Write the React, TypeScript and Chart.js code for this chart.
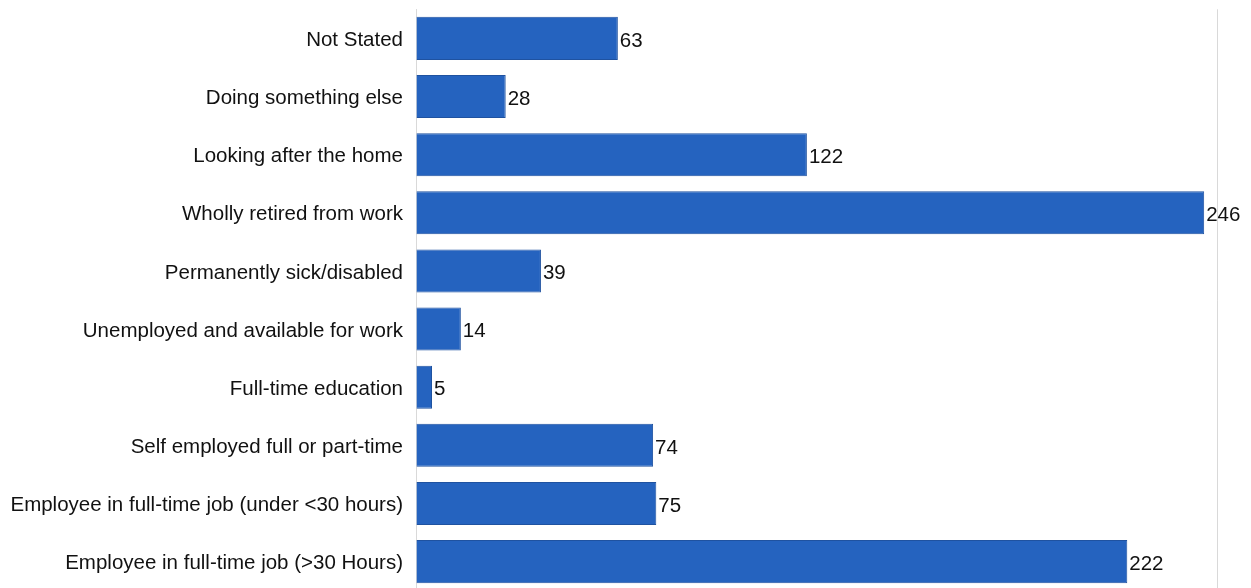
import React, { useEffect, useRef } from "react";
import { Chart, registerables } from "chart.js";

Chart.register(...registerables);

const categories = [
  "Not Stated",
  "Doing something else",
  "Looking after the home",
  "Wholly retired from work",
  "Permanently sick/disabled",
  "Unemployed and available for work",
  "Full-time education",
  "Self employed full or part-time",
  "Employee in full-time job (under <30 hours)",
  "Employee in full-time job (>30 Hours)",
];
const values = [63, 28, 122, 246, 39, 14, 5, 74, 75, 222];
const axisMin = 0;
const axisMax = 250;

const FONT_SIZE = 20.5;
const FONT_FAMILY = "'Liberation Sans', Arial, sans-serif";

const valueLabels = {
  id: "valueLabels",
  afterDatasetsDraw(chart: any) {
    const ctx = chart.ctx;
    const meta = chart.getDatasetMeta(0);
    ctx.save();
    ctx.font = `${FONT_SIZE}px ${FONT_FAMILY}`;
    ctx.fillStyle = "#111111";
    ctx.textAlign = "left";
    ctx.textBaseline = "middle";
    meta.data.forEach((bar: any, i: number) => {
      ctx.fillText(String(values[i]), bar.x + 2, bar.y + 2.5);
    });
    ctx.restore();
  },
};

export default function App() {
  const ref = useRef<HTMLCanvasElement>(null);
  useEffect(() => {
    if (!ref.current) return;
    const chart = new Chart(ref.current, {
      type: "bar",
      data: {
        labels: categories,
        datasets: [
          {
            data: values,
            backgroundColor: "#2563BF",
            borderColor: "#1F52A0",
            borderWidth: 1,
            barPercentage: 0.74,
            categoryPercentage: 1,
          },
        ],
      },
      options: {
        indexAxis: "y",
        animation: false,
        responsive: false,
        maintainAspectRatio: false,
        layout: { padding: { top: 0, right: 34, bottom: 0, left: 0 } },
        plugins: { legend: { display: false }, tooltip: { enabled: false } },
        scales: {
          x: {
            min: axisMin,
            max: axisMax,
            ticks: { display: false, stepSize: 250 },
            grid: { color: "#d9d9d9", lineWidth: 1, drawTicks: false },
            border: { display: false },
            afterFit: (s: any) => {
              s.height = 0;
            },
          },
          y: {
            grid: { display: false, drawTicks: false },
            border: { display: true, color: "#d9d9d9", width: 1 },
            ticks: {
              padding: 13,
              labelOffset: 2,
              color: "#111111",
              font: { family: FONT_FAMILY, size: FONT_SIZE },
            },
            afterFit: (s: any) => {
              s.width = 416;
            },
          },
        },
      },
      plugins: [valueLabels],
    });
    return () => chart.destroy();
  }, []);
  return (
    <div style={{ position: "fixed", left: 0, top: -16, width: 1251, height: 632, background: "#fff" }}>
      <canvas ref={ref} width={1251} height={632} style={{ display: "block" }} />
    </div>
  );
}
